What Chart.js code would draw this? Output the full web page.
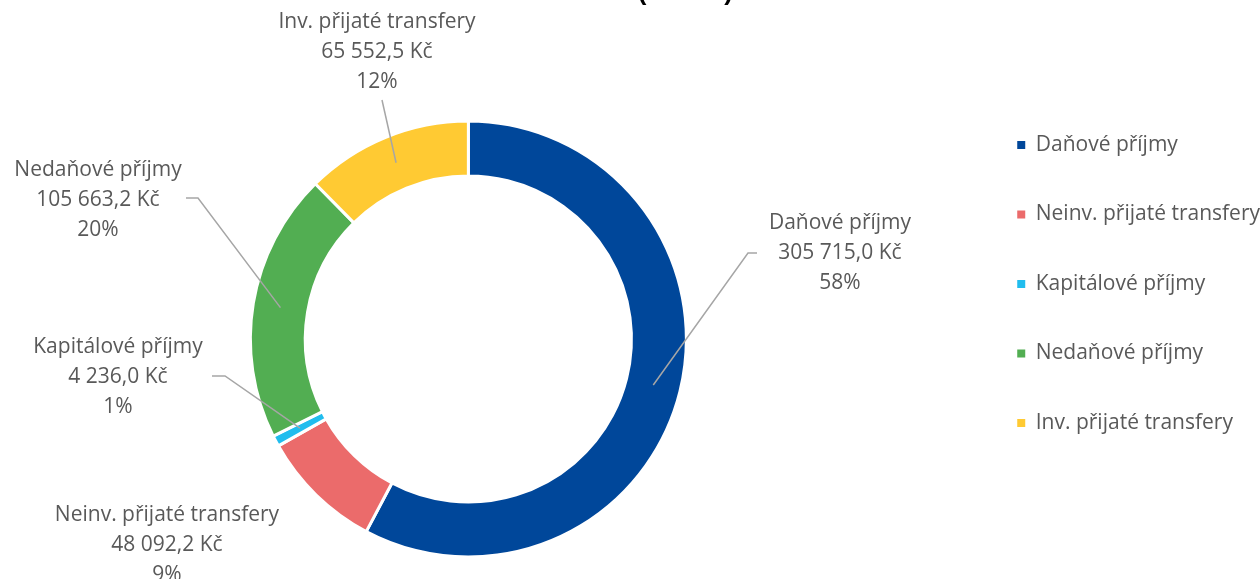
<!DOCTYPE html>
<html>
<head>
<meta charset="utf-8">
<script src="https://cdn.jsdelivr.net/npm/chart.js@4.4.0/dist/chart.umd.min.js"></script>
<style>
  html, body { margin: 0; padding: 0; background: #fff; }
  canvas { display: block; }
</style>
</head>
<body>
<canvas id="chart1" width="1260" height="579"></canvas>
<script>
const categories = ['Daňové příjmy', 'Neinv. přijaté transfery', 'Kapitálové příjmy', 'Nedaňové příjmy', 'Inv. přijaté transfery'];
const amounts = [305715.0, 48092.2, 4236.0, 105663.2, 65552.5];
const sliceColors = ['#00479A', '#EB6B6B', '#21BDEE', '#52AE52', '#FFCA33'];
const chartTitle = 'PŘÍJMY (tis. Kč)';

// where the label blocks sit and where their leader lines start
const labelCentres = [[840, 253], [167, 545], [118, 377], [98, 200], [377, 52]];
const leaderStarts = [[[757, 253], [748, 253]], null, [[212, 376], [225, 376]], [[186, 198], [198, 198]], [[382, 100]]];

const textColor = '#595959';
const fontFamily = '"Open Sans"';
const legendGap = 32;   // extra room between the ring and the legend

function fmtKc(v) {
    const parts = v.toFixed(1).split('.');
    return parts[0].replace(/\B(?=(\d{3})+(?!\d))/g, ' ') + ',' + parts[1] + ' Kč';
}

const sliceLabels = {
    id: 'sliceLabels',
    afterLayout(chart) {
        const area = chart.chartArea;
        area.right -= legendGap;
        area.width = area.right - area.left;
    },
    afterDraw(chart) {
        const ctx = chart.ctx;
        const arcs = chart.getDatasetMeta(0).data;
        const total = amounts.reduce((a, b) => a + b, 0);
        ctx.save();

        // title, almost entirely above the top edge as in the original
        ctx.font = 'bold 26px "Liberation Sans"';
        ctx.fillStyle = '#000000';
        ctx.textAlign = 'right';
        ctx.textBaseline = 'alphabetic';
        ctx.fillText(chartTitle, 733, 0);

        ctx.strokeStyle = '#A6A6A6';
        ctx.lineWidth = 1.5;
        arcs.forEach((arc, i) => {
            const pts = leaderStarts[i];
            if (!pts) return;
            const end = arc.tooltipPosition(true);
            ctx.beginPath();
            ctx.moveTo(pts[0][0], pts[0][1]);
            for (let k = 1; k < pts.length; k++) ctx.lineTo(pts[k][0], pts[k][1]);
            ctx.lineTo(end.x, end.y);
            ctx.stroke();
        });

        ctx.font = '21px ' + fontFamily;
        ctx.fillStyle = textColor;
        ctx.textAlign = 'center';
        ctx.textBaseline = 'middle';
        arcs.forEach((arc, i) => {
            const [x, y] = labelCentres[i];
            const lines = [categories[i], fmtKc(amounts[i]), Math.round(amounts[i] / total * 100) + '%'];
            lines.forEach((t, k) => ctx.fillText(t, x, y + (k - 1) * 30));
        });
        ctx.restore();
    }
};

const ctx1 = document.getElementById('chart1').getContext('2d');

new Chart(ctx1, {
    type: 'doughnut',
    data: {
        labels: categories,
        datasets: [{
            data: amounts,
            backgroundColor: sliceColors,
            borderColor: '#ffffff',
            borderWidth: 3
        }]
    },
    options: {
        responsive: false,
        animation: false,
        events: [],
        radius: 218,
        cutout: '74.8%',
        layout: {
            padding: { left: 0, right: -10, top: 0, bottom: 11 }
        },
        plugins: {
            tooltip: { enabled: false },
            // keeps the header space; the title text itself is drawn by sliceLabels
            title: {
                display: true,
                text: '',
                font: { family: fontFamily, size: 28, lineHeight: 1.2 },
                padding: { top: 0, bottom: 76.4 }
            },
            legend: {
                position: 'right',
                align: 'center',
                labels: {
                    boxWidth: 8,
                    boxHeight: 8,
                    padding: 48.5,
                    color: textColor,
                    font: { family: fontFamily, size: 21 },
                    generateLabels(chart) {
                        const items = Chart.overrides.doughnut.plugins.legend.labels.generateLabels(chart);
                        items.forEach(it => { it.lineWidth = 0; it.strokeStyle = it.fillStyle; });
                        return items;
                    }
                }
            }
        }
    },
    plugins: [sliceLabels]
});
</script>
</body>
</html>
